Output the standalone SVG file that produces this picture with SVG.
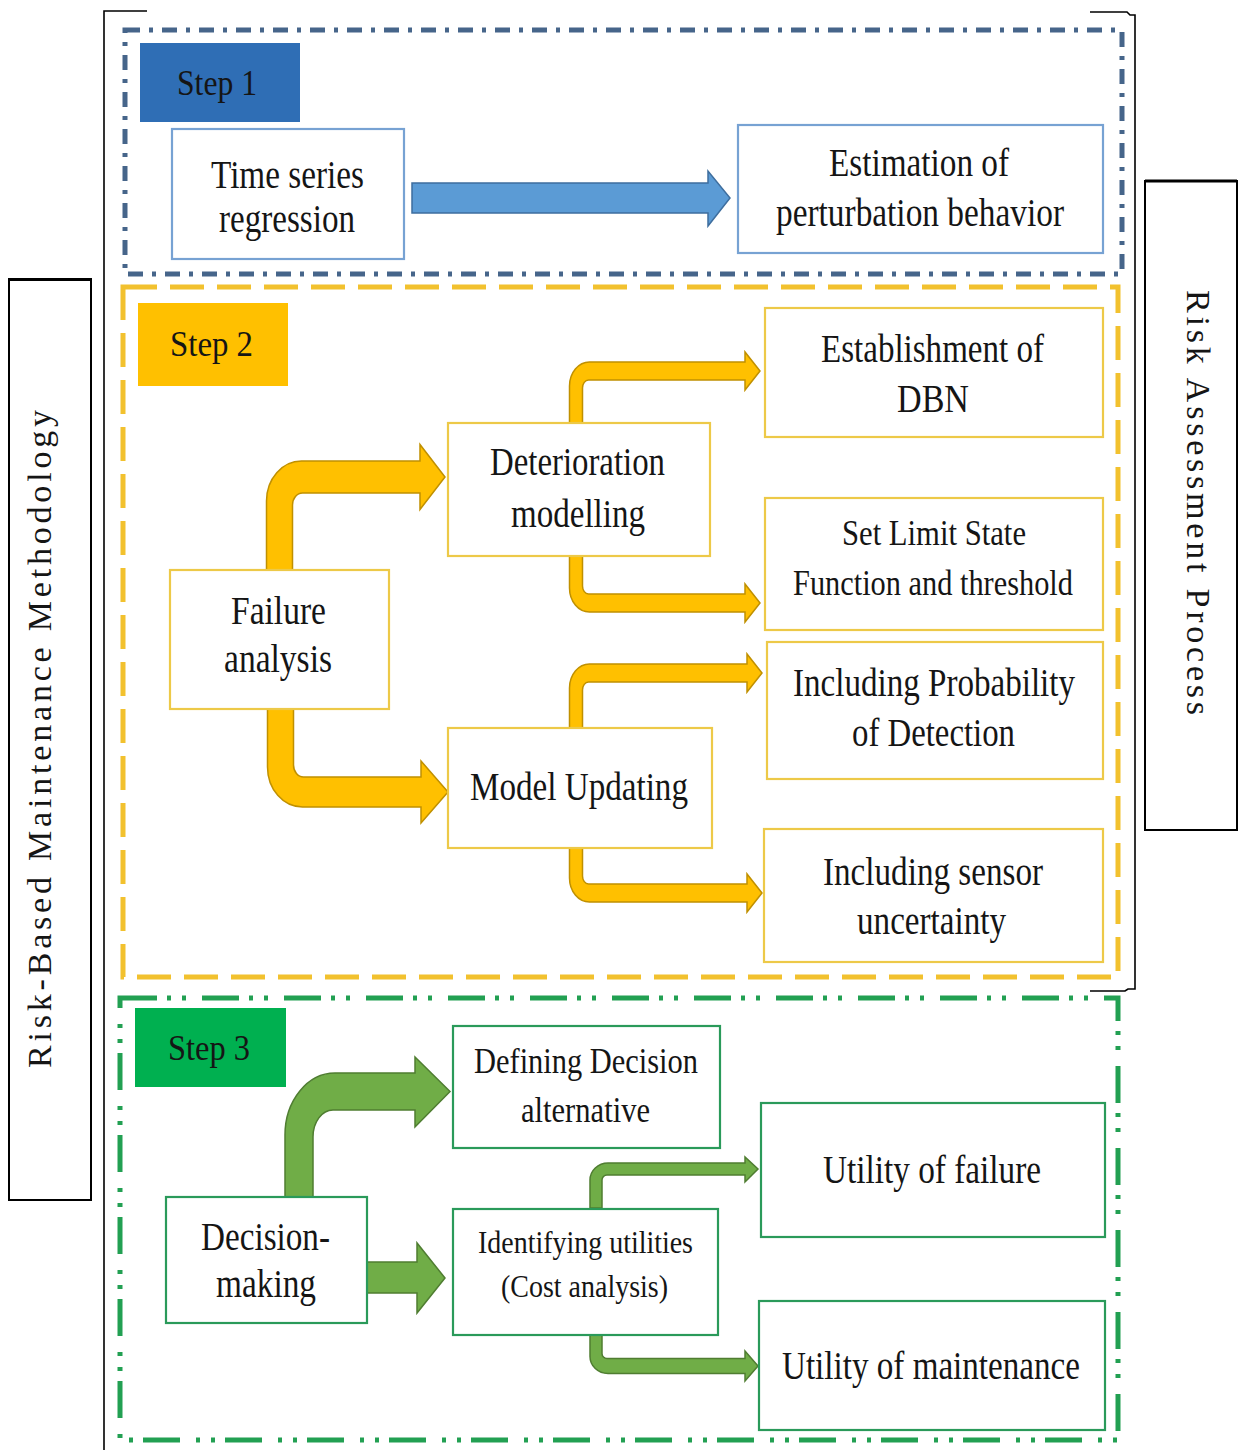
<svg xmlns="http://www.w3.org/2000/svg" width="1239" height="1450" viewBox="0 0 1239 1450" font-family="'Liberation Serif', 'Times New Roman', serif">
  <style>
    text { font-family: "Liberation Serif", "Times New Roman", serif; fill: #151515; }
    .t40 { font-size: 40px; }
    .t34 { font-size: 35px; }
    .t31 { font-size: 32px; }
    .step { font-size: 35px; }
    .side { font-size: 34px; }
    .frame { fill: none; stroke: #000; stroke-width: 2; }
    .bound1 { fill: none; stroke: #46658a; stroke-width: 5; stroke-dasharray: 15 9 4 9; }
    .bound2 { fill: none; stroke: #f2c12e; stroke-width: 5; stroke-dasharray: 34 13; }
    .bound3 { fill: none; stroke: #22a052; stroke-width: 5; stroke-dasharray: 37 10 4 11 4 16; }
    .box1 { fill: #fff; stroke: #77a2d3; stroke-width: 2.2; }
    .box2 { fill: #fff; stroke: #edc948; stroke-width: 2.2; }
    .box3 { fill: #fff; stroke: #2a9a5a; stroke-width: 2.2; }
    .arr1 { fill: #5b9bd5; stroke: #3e6e9e; stroke-width: 1.5; }
    .arr2 { fill: #ffc000; stroke: #c09000; stroke-width: 1.5; }
    .arr3 { fill: #70ad47; stroke: #4f7d31; stroke-width: 1.5; }
  </style>

  <rect width="1239" height="1450" fill="#fff"/>

  <!-- outer brackets -->
  <g id="brackets" fill="none" stroke="#000" stroke-width="1.6">
    <path d="M147,11 H104 V1450"/>
    <path d="M1090,12 H1127 L1130,15 H1135 V989 H1128 L1125,991 H1090"/>
  </g>

  <!-- side labels -->
  <g id="side-left">
    <rect class="frame" x="9" y="279" width="82" height="921"/>
    <line x1="9" y1="279.5" x2="91" y2="279.5" stroke="#000" stroke-width="3"/>
    <text class="side" transform="translate(51,1068) rotate(-90)" x="0" y="0" textLength="658" lengthAdjust="spacing">Risk-Based Maintenance Methodology</text>
  </g>
  <g id="side-right">
    <rect class="frame" x="1145" y="181" width="92" height="649"/>
    <line x1="1145" y1="181" x2="1237" y2="181" stroke="#000" stroke-width="3"/>
    <text class="side" transform="translate(1187,290) rotate(90)" x="0" y="0" textLength="425" lengthAdjust="spacing">Risk Assessment Process</text>
  </g>

  <!-- stage boundaries -->
  <g id="stages">
    <rect class="bound1" x="125" y="30" width="997" height="244"/>
    <rect class="bound2" x="123" y="287" width="995" height="690"/>
    <rect class="bound3" x="120" y="998" width="998" height="442"/>
  </g>

  <!-- connectors -->
  <g id="connectors">
    <!-- step 1 -->
    <path class="arr1" d="M412,183 H708 V171 L730,198 L708,226 V213 H412 Z"/>
    <!-- step 2: failure analysis branches -->
    <path class="arr2" d="M266.5,570 V501 A35 40 0 0 1 301.5,461 H420 V444.5 L445,477 L420,509.5 V493 H302.5 A10 12 0 0 0 292.5,505 V570 Z"/>
    <path class="arr2" d="M267.5,709 V767 A35 40 0 0 0 302.5,807 H421 V823 L448,792 L421,761 V777 H303.5 A10 12 0 0 1 293.5,765 V709 Z"/>
    <!-- step 2: deterioration modelling branches -->
    <path class="arr2" d="M569.5,423 V386 A20 24 0 0 1 589.5,362 H745 V352 L760,371 L745,390 V380 H588.5 A6 8 0 0 0 582.5,388 V423 Z"/>
    <path class="arr2" d="M569.5,556 V588 A20 24 0 0 0 589.5,612 H745 V622 L760,603 L745,584 V594 H588.5 A6 8 0 0 1 582.5,586 V556 Z"/>
    <!-- step 2: model updating branches -->
    <path class="arr2" d="M569.5,728 V688 A20 24 0 0 1 589.5,664 H747 V654 L762,673 L747,692 V682 H588.5 A6 8 0 0 0 582.5,690 V728 Z"/>
    <path class="arr2" d="M569.5,848 V878 A20 24 0 0 0 589.5,902 H747 V912 L762,893 L747,874 V884 H588.5 A6 8 0 0 1 582.5,876 V848 Z"/>
    <!-- step 3 -->
    <path class="arr3" d="M285,1197 V1135 A50 62 0 0 1 335,1073 H415 V1057 L450,1091.5 L415,1127 V1110 H333 A20 27 0 0 0 313,1137 V1197 Z"/>
    <path class="arr3" d="M367,1262 H417 V1243 L445,1278 L417,1313 V1293 H367 Z"/>
    <path class="arr3" d="M590,1208 V1180 A18 17 0 0 1 608,1163 H745 V1157 L758,1169 L745,1182 V1175 H607 A5 5 0 0 0 602,1180 V1208 Z"/>
    <path class="arr3" d="M590,1335 V1356.5 A18 17 0 0 0 608,1373.5 H745 V1381 L758,1366 L745,1351 V1358.5 H607 A5 5 0 0 1 602,1353.5 V1335 Z"/>
  </g>

  <!-- step 1 nodes -->
  <g id="step1-label">
    <rect x="140" y="43" width="160" height="79" fill="#2f6eb5"/>
    <text class="step" x="177" y="95" textLength="80" lengthAdjust="spacingAndGlyphs">Step 1</text>
  </g>
  <g id="time-series">
    <rect class="box1" x="172" y="129" width="232" height="130"/>
    <text class="t40" x="211" y="188" textLength="153" lengthAdjust="spacingAndGlyphs">Time series</text>
    <text class="t40" x="219" y="232" textLength="136" lengthAdjust="spacingAndGlyphs">regression</text>
  </g>
  <g id="estimation">
    <rect class="box1" x="738" y="125" width="365" height="128"/>
    <text class="t40" x="829" y="176" textLength="180" lengthAdjust="spacingAndGlyphs">Estimation of</text>
    <text class="t40" x="776" y="226" textLength="288" lengthAdjust="spacingAndGlyphs">perturbation behavior</text>
  </g>

  <!-- step 2 nodes -->
  <g id="step2-label">
    <rect x="138" y="303" width="150" height="83" fill="#ffc000"/>
    <text class="step" x="170" y="356" textLength="83" lengthAdjust="spacingAndGlyphs">Step 2</text>
  </g>
  <g id="failure-analysis">
    <rect class="box2" x="170" y="570" width="219" height="139"/>
    <text class="t40" x="231" y="624" textLength="95" lengthAdjust="spacingAndGlyphs">Failure</text>
    <text class="t40" x="224" y="672" textLength="108" lengthAdjust="spacingAndGlyphs">analysis</text>
  </g>
  <g id="deterioration">
    <rect class="box2" x="448" y="423" width="262" height="133"/>
    <text class="t40" x="490" y="475" textLength="175" lengthAdjust="spacingAndGlyphs">Deterioration</text>
    <text class="t40" x="511" y="527" textLength="134" lengthAdjust="spacingAndGlyphs">modelling</text>
  </g>
  <g id="model-updating">
    <rect class="box2" x="448" y="728" width="264" height="120"/>
    <text class="t40" x="470" y="800" textLength="218" lengthAdjust="spacingAndGlyphs">Model Updating</text>
  </g>
  <g id="dbn">
    <rect class="box2" x="765" y="308" width="338" height="129"/>
    <text class="t40" x="821" y="362" textLength="223" lengthAdjust="spacingAndGlyphs">Establishment of</text>
    <text class="t40" x="897" y="412" textLength="72" lengthAdjust="spacingAndGlyphs">DBN</text>
  </g>
  <g id="limit-state">
    <rect class="box2" x="765" y="498" width="338" height="132"/>
    <text class="t34" x="842" y="545" textLength="184" lengthAdjust="spacingAndGlyphs">Set Limit State</text>
    <text class="t34" x="793" y="595" textLength="280" lengthAdjust="spacingAndGlyphs">Function and threshold</text>
  </g>
  <g id="probability-detection">
    <rect class="box2" x="767" y="642" width="336" height="137"/>
    <text class="t40" x="793" y="696" textLength="282" lengthAdjust="spacingAndGlyphs">Including Probability</text>
    <text class="t40" x="852" y="746" textLength="163" lengthAdjust="spacingAndGlyphs">of Detection</text>
  </g>
  <g id="sensor-uncertainty">
    <rect class="box2" x="764" y="829" width="339" height="133"/>
    <text class="t40" x="823" y="885" textLength="220" lengthAdjust="spacingAndGlyphs">Including sensor</text>
    <text class="t40" x="857" y="934" textLength="149" lengthAdjust="spacingAndGlyphs">uncertainty</text>
  </g>

  <!-- step 3 nodes -->
  <g id="step3-label">
    <rect x="135" y="1008" width="151" height="79" fill="#00b050"/>
    <text class="step" x="168" y="1060" textLength="82" lengthAdjust="spacingAndGlyphs">Step 3</text>
  </g>
  <g id="decision-making">
    <rect class="box3" x="166" y="1197" width="201" height="126"/>
    <text class="t40" x="201" y="1250" textLength="129" lengthAdjust="spacingAndGlyphs">Decision-</text>
    <text class="t40" x="216" y="1297" textLength="100" lengthAdjust="spacingAndGlyphs">making</text>
  </g>
  <g id="decision-alternative">
    <rect class="box3" x="453" y="1026" width="267" height="122"/>
    <text class="t34" x="474" y="1073" textLength="224" lengthAdjust="spacingAndGlyphs">Defining Decision</text>
    <text class="t34" x="521" y="1122" textLength="129" lengthAdjust="spacingAndGlyphs">alternative</text>
  </g>
  <g id="identifying-utilities">
    <rect class="box3" x="453" y="1209" width="265" height="126"/>
    <text class="t31" x="478" y="1253" textLength="215" lengthAdjust="spacingAndGlyphs">Identifying utilities</text>
    <text class="t31" x="501" y="1297" textLength="167" lengthAdjust="spacingAndGlyphs">(Cost analysis)</text>
  </g>
  <g id="utility-failure">
    <rect class="box3" x="761" y="1103" width="344" height="134"/>
    <text class="t40" x="823" y="1183" textLength="218" lengthAdjust="spacingAndGlyphs">Utility of failure</text>
  </g>
  <g id="utility-maintenance">
    <rect class="box3" x="759" y="1301" width="346" height="129"/>
    <text class="t40" x="782" y="1379" textLength="298" lengthAdjust="spacingAndGlyphs">Utility of maintenance</text>
  </g>
</svg>
